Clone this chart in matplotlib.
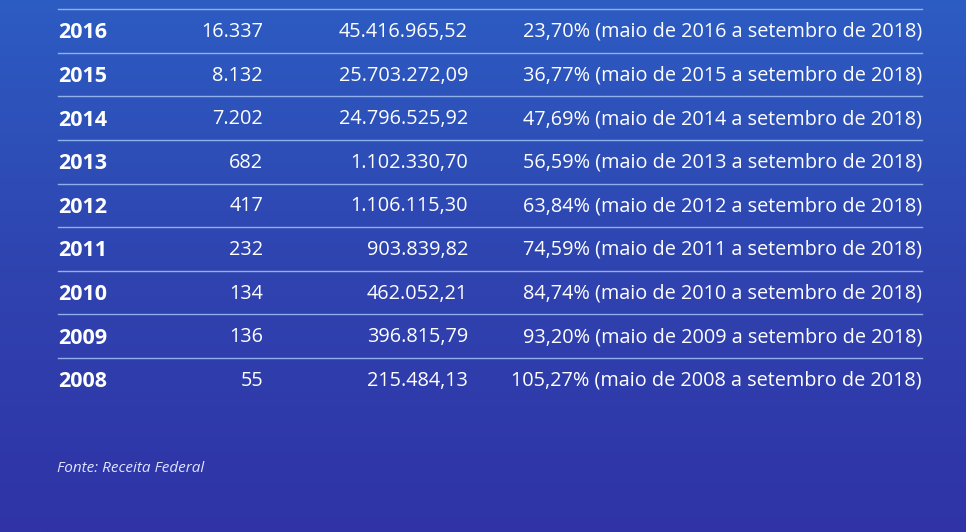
import matplotlib
matplotlib.use("Agg")
import matplotlib.pyplot as plt
import numpy as np
from matplotlib.colors import LinearSegmentedColormap

years = ["2016", "2015", "2014", "2013", "2012", "2011", "2010", "2009", "2008"]
counts = ["16.337", "8.132", "7.202", "682", "417", "232", "134", "136", "55"]
values = ["45.416.965,52", "25.703.272,09", "24.796.525,92", "1.102.330,70", "1.106.115,30",
          "903.839,82", "462.052,21", "396.815,79", "215.484,13"]
pcts = ["23,70%", "36,77%", "47,69%", "56,59%", "63,84%", "74,59%", "84,74%", "93,20%", "105,27%"]
source = "Fonte: Receita Federal"

plt.rcParams['font.family'] = ['Open Sans', 'DejaVu Sans']
fig = plt.figure(figsize=(9.66, 5.32), dpi=100)
ax = fig.add_axes([0, 0, 1, 1])
ax.set_xlim(0, 966)
ax.set_ylim(532, 0)
ax.axis('off')

cmap = LinearSegmentedColormap.from_list('bg', ['#2c5cc2', '#2f44b0', '#3033a6'])
grad = np.linspace(0, 1, 256).reshape(-1, 1)
ax.imshow(grad, cmap=cmap, extent=[0, 966, 532, 0], aspect='auto', zorder=0)

step = 43.6
y0 = 32
for i, y in enumerate(years):
    yc = y0 + i * step
    ax.text(58, yc + 1, y, color='white', fontsize=15.5, fontweight='bold', va='center', ha='left')
    ax.text(263, yc, counts[i], color='white', fontsize=14.3, va='center', ha='right')
    ax.text(468, yc, values[i], color='white', fontsize=14.3, va='center', ha='right')
    ax.text(922, yc, f"{pcts[i]} (maio de {y} a setembro de 2018)", color='white',
            fontsize=14.3, va='center', ha='right')
    ax.plot([58, 922], [yc - 1 - step / 2, yc - 1 - step / 2], color='#8fb0ea', lw=1.0, zorder=1)

ax.text(57, 469, source, color='#dfe4ff', fontsize=11, style='italic', va='center', ha='left')

fig.savefig('out.png', dpi=100)
